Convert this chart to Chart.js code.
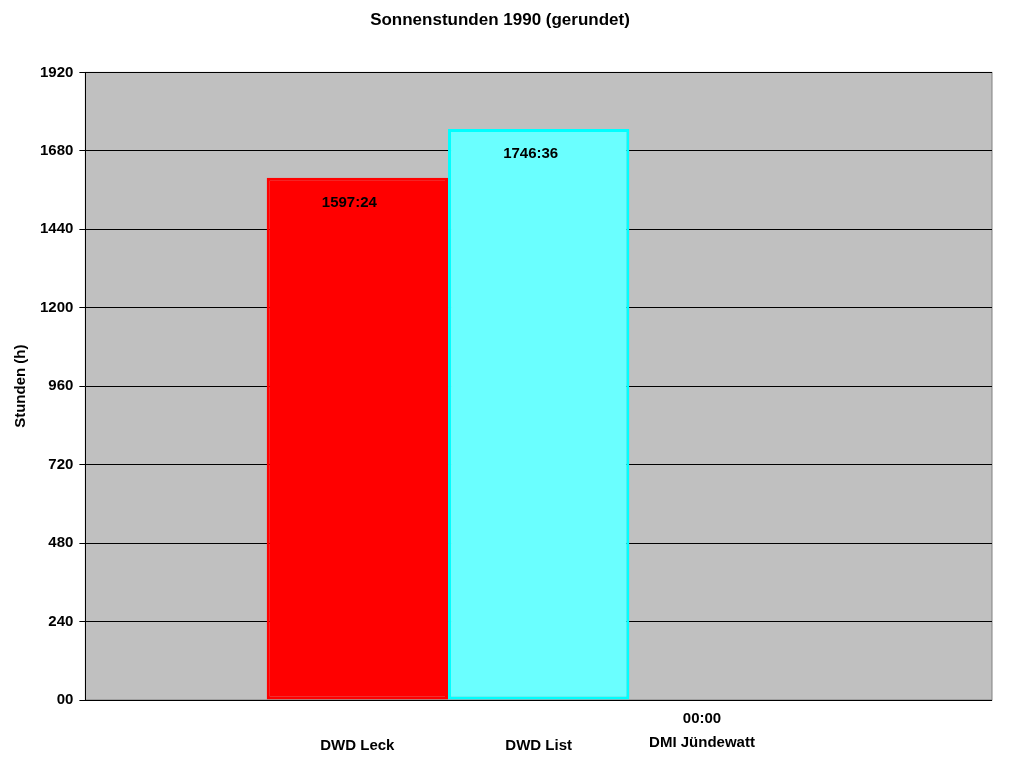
<!DOCTYPE html>
<html>
<head>
<meta charset="utf-8">
<script src="https://cdn.jsdelivr.net/npm/chart.js@4/dist/chart.umd.min.js"></script>
<style>
  html, body { margin: 0; padding: 0; background: #fff; }
  #wrap { width: 1024px; height: 768px; }
</style>
</head>
<body>
<div id="wrap"><canvas id="sunChart" width="1024" height="768"></canvas></div>
<script>
const stations = ['DWD Leck', 'DWD List', 'DMI Jündewatt'];
const hours = [1597.4, 1746.6, 0];
const hourLabels = ['1597:24', '1746:36', '00:00'];
const yTicks = [0, 240, 480, 720, 960, 1200, 1440, 1680, 1920];

const fills = [['#ff0000', '#8b0000'], ['#6affff', '#35a09c'], ['#00ff00', '#00c000']];
const borders = ['#ff0000', '#00ffff', '#00ff00'];

function gradientFor(i) {
    return function (context) {
        const el = context.element;
        const chart = context.chart;
        if (!el || !chart.chartArea) return fills[i][0];
        const w = el.width;
        if (!Number.isFinite(el.x) || !Number.isFinite(w) || w <= 0) return fills[i][0];
        const g = chart.ctx.createLinearGradient(el.x - w / 2, 0, el.x + w / 2, 0);
        g.addColorStop(0, fills[i][0]);
        g.addColorStop(0.15, fills[i][0]);
        g.addColorStop(1, fills[i][1]);
        return g;
    };
}

const datasets = stations.map((name, i) => ({
    label: name,
    data: [hours[i]],
    backgroundColor: gradientFor(i),
    borderColor: borders[i],
    borderWidth: 3,
    borderSkipped: false,
    barPercentage: 1,
    categoryPercentage: 0.6
}));

const labelPlugin = {
    id: 'stationLabels',
    afterDatasetsDraw(chart) {
        const ctx = chart.ctx;
        ctx.save();
        ctx.font = 'bold 15px "Liberation Sans", Arial, sans-serif';
        ctx.fillStyle = '#000';
        ctx.textAlign = 'center';
        chart.data.datasets.forEach((ds, i) => {
            const bar = chart.getDatasetMeta(i).data[0];
            if (hours[i] > 0) {
                ctx.fillText(hourLabels[i], bar.x - 8, bar.y + 29);
                ctx.fillText(stations[i], bar.x, 750);
            } else {
                ctx.fillText(hourLabels[i], bar.x - 18, 723);
                ctx.fillText(stations[i], bar.x - 18, 747);
            }
        });
        ctx.restore();
    }
};

const bgPlugin = {
    id: 'plotBg',
    beforeDraw(chart) {
        const a = chart.chartArea;
        chart.ctx.save();
        chart.ctx.fillStyle = '#c0c0c0';
        chart.ctx.fillRect(a.left, a.top, a.right - a.left, a.bottom - a.top);
        chart.ctx.strokeStyle = '#808080';
        chart.ctx.strokeRect(a.left, a.top, a.right - a.left, a.bottom - a.top);
        chart.ctx.restore();
    }
};

new Chart(document.getElementById('sunChart'), {
    type: 'bar',
    data: { labels: [''], datasets: datasets },
    options: {
        responsive: false,
        animation: false,
        layout: { padding: { left: 8, right: 32, top: 0, bottom: 60 } },
        scales: {
            x: {
                grid: { display: false },
                ticks: { display: false },
                border: { display: false }
            },
            y: {
                min: 0,
                max: 1920,
                afterBuildTicks: axis => { axis.ticks = yTicks.map(v => ({ value: v })); },
                ticks: {
                    color: '#000',
                    font: { family: '"Liberation Sans", Arial', size: 15, weight: 'bold' },
                    callback: v => v === 0 ? '00' : String(v),
                    padding: 6
                },
                grid: { color: '#000', tickLength: 6, drawTicks: true },
                border: { color: '#000' },
                title: {
                    display: true,
                    text: 'Stunden (h)',
                    color: '#000',
                    font: { family: '"Liberation Sans", Arial', size: 15, weight: 'bold' }
                }
            }
        },
        plugins: {
            legend: { display: false },
            tooltip: { enabled: false },
            title: {
                display: true,
                text: 'Sonnenstunden 1990 (gerundet)',
                color: '#000',
                font: { family: '"Liberation Sans", Arial', size: 17, weight: 'bold' },
                padding: { top: 10, bottom: 42 }
            }
        }
    },
    plugins: [bgPlugin, labelPlugin]
});
</script>
</body>
</html>
